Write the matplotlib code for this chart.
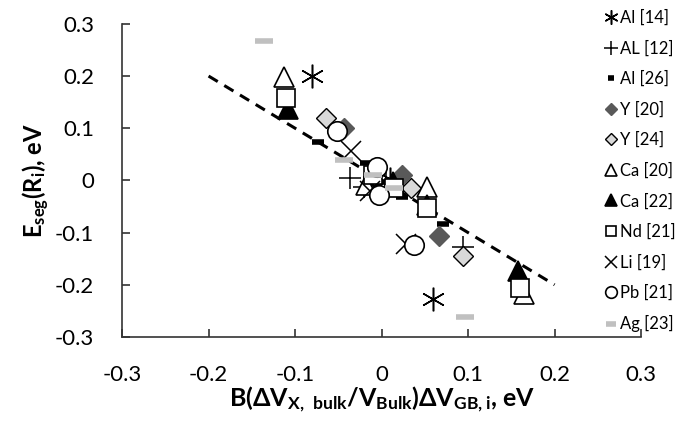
import matplotlib
matplotlib.use("Agg")
import matplotlib.pyplot as plt

plt.rcParams["font.family"] = ["Lato", "DejaVu Sans"]
plt.rcParams["mathtext.fontset"] = "custom"
plt.rcParams["mathtext.rm"] = "Lato"
plt.rcParams["mathtext.bf"] = "Lato:bold"
plt.rcParams["mathtext.default"] = "bf"

# series values
al14_x = [-0.081, 0.059, 0.010, -0.008]
al14_y = [0.201, -0.228, 0.002, -0.010]
al12_x = [-0.037, 0.094, 0.005, -0.020]
al12_y = [0.004, -0.128, 0.000, -0.012]
al26_x = [-0.074, 0.071, -0.018, 0.024, 0.010]
al26_y = [0.073, -0.084, 0.034, -0.032, -0.005]
y20_x = [-0.044, 0.024, 0.066]
y20_y = [0.101, 0.010, -0.107]
y24_x = [-0.064, 0.034, 0.094]
y24_y = [0.119, -0.015, -0.145]
ca20_x = [-0.113, 0.053, 0.165, -0.018]
ca20_y = [0.198, -0.013, -0.218, -0.008]
ca22_x = [-0.108, 0.052, 0.158, 0.013]
ca22_y = [0.136, -0.048, -0.174, -0.004]
nd21_x = [-0.110, 0.052, 0.160, -0.010, 0.014]
nd21_y = [0.157, -0.052, -0.207, 0.011, -0.015]
li19_x = [-0.035, 0.028, -0.013]
li19_y = [0.056, -0.122, -0.021]
pb21_x = [-0.052, 0.037, -0.005, -0.003]
pb21_y = [0.094, -0.124, 0.025, -0.027]
ag23_x = [-0.136, -0.043, 0.097, -0.010, 0.014]
ag23_y = [0.268, 0.040, -0.262, 0.011, -0.015]

fit_x = [-0.2, 0.2]
fit_y = [0.2, -0.2]

ticks = [-0.3, -0.2, -0.1, 0, 0.1, 0.2, 0.3]
tick_labels = ["-0.3", "-0.2", "-0.1", "0", "0.1", "0.2", "0.3"]

fig = plt.figure(figsize=(6.82, 4.26), dpi=100)
ax = fig.add_axes([0.179, 0.209, 0.761, 0.735])

ax.plot(fit_x, fit_y, color="black", linestyle=(0, (3.5, 2.5)), linewidth=2.2, zorder=1)

styles = [
    ("Al [14]", al14_x, al14_y, dict(marker=(6, 2, 0), markersize=17, color="black", mew=1.1)),
    ("AL [12]", al12_x, al12_y, dict(marker="+", markersize=16, color="black", mew=1.1)),
    ("Al [26]", al26_x, al26_y, dict(marker="_", markersize=8, color="black", mew=4)),
    ("Y [20]", y20_x, y20_y, dict(marker="D", markersize=10, mfc="#595959", mec="#595959", mew=1)),
    ("Y [24]", y24_x, y24_y, dict(marker="D", markersize=10, mfc="#d9d9d9", mec="black", mew=1)),
    ("Ca [20]", ca20_x, ca20_y, dict(marker="^", markersize=14, mfc="white", mec="black", mew=1.2)),
    ("Ca [22]", ca22_x, ca22_y, dict(marker="^", markersize=14, mfc="black", mec="black", mew=1.2)),
    ("Nd [21]", nd21_x, nd21_y, dict(marker="s", markersize=13, mfc="white", mec="black", mew=1.2)),
    ("Li [19]", li19_x, li19_y, dict(marker="x", markersize=14, color="black", mew=1.1)),
    ("Pb [21]", pb21_x, pb21_y, dict(marker="o", markersize=14, mfc="white", mec="black", mew=1.2)),
    ("Ag [23]", ag23_x, ag23_y, dict(marker="_", markersize=13, color="#c0c0c0", mew=4)),
]

handles = []
for label, xs, ys, kw in styles:
    h, = ax.plot(xs, ys, linestyle="none", label=label, zorder=2, **kw)
    handles.append(h)

ax.set_xlim(-0.3, 0.3)
ax.set_ylim(-0.3, 0.3)
ax.set_xticks(ticks)
ax.set_xticklabels(tick_labels)
ax.set_yticks(ticks)
ax.set_yticklabels(tick_labels)
ax.tick_params(direction="in", length=6, width=1.2, labelsize=16, pad=20, color="#333333")
for side in ["top", "right"]:
    ax.spines[side].set_visible(False)
for side in ["left", "bottom"]:
    ax.spines[side].set_linewidth(1.2)
    ax.spines[side].set_color("#333333")

ax.set_xlabel(r"B($\Delta$V$_{X,\ bulk}$/V$_{Bulk}$)$\Delta$V$_{GB,i}$, eV",
              fontsize=18, fontweight="bold", labelpad=0)
ax.set_ylabel(r"E$_{seg}$(R$_{i}$), eV", fontsize=17, fontweight="bold", labelpad=2)

leg = fig.legend(handles=handles, loc="upper left", bbox_to_anchor=(0.889, 0.977),
                 frameon=False, fontsize=12, markerscale=0.6, handlelength=0.6,
                 handletextpad=0.2, labelspacing=0.86, borderaxespad=0, borderpad=0)

fig.savefig("out.png", dpi=100)
